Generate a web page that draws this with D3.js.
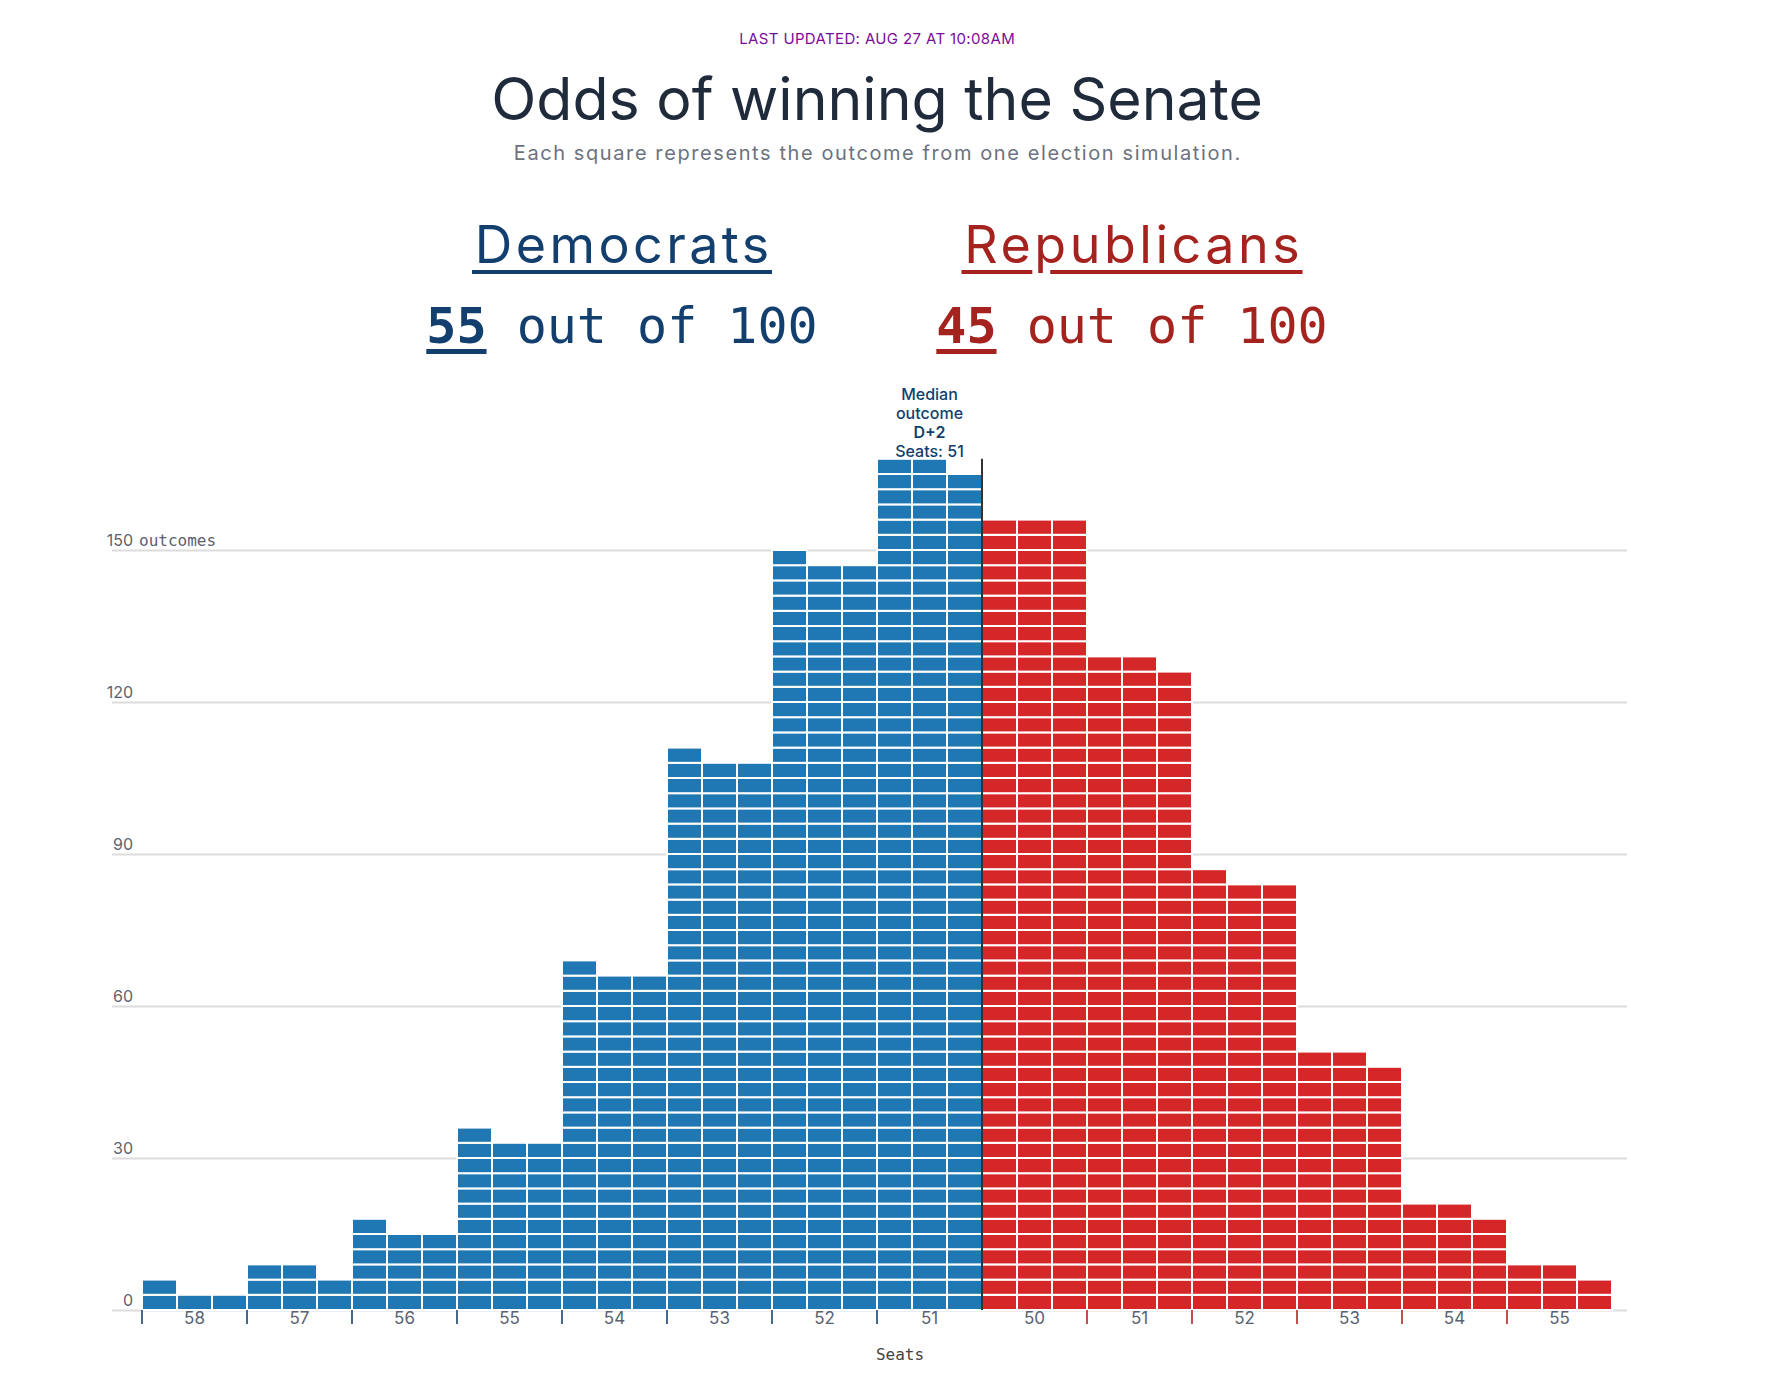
<!DOCTYPE html>
<meta charset="utf-8">
<style>
    body { margin: 0; background: #fff; }
    svg { display: block; }
    .sans { font-family: Inter, "Noto Sans", sans-serif; }
    .mono { font-family: "DejaVu Sans Mono", monospace; }
    .grid line { stroke: #dcdcdc; stroke-width: 2px; }
    .grid path { display: none; }
    .squares rect { stroke: #fff; stroke-width: 2px; }
    .xlabels path, .xlabels line { display: none; }
</style>
<svg width="1784" height="1384"></svg>
<script src="https://d3js.org/d3.v7.min.js"></script>
<script>
    // simulations per seat outcome (each square = one simulation)
    const demSeats = [58, 57, 56, 55, 54, 53, 52, 51];
    const demSims = [4, 8, 16, 34, 67, 109, 148, 167];
    const repSeats = [50, 51, 52, 53, 54, 55];
    const repSims = [156, 128, 85, 50, 20, 8];
    const yTicks = [0, 30, 60, 90, 120, 150];
    const demOdds = 55, repOdds = 45;
    const medianSeats = 51, medianLabel = "D+2";

    const blue = "#1f77b4", red = "#d62728";
    const demText = "#123f6e", repText = "#a5231e";

    let svg = d3.select("svg");

    // spread a text's letters so it fills a given width (keeps it centred)
    function fit(sel, target) {
        let n = sel.text().length;
        let w = sel.node().getComputedTextLength();
        let ls = (target - w) / n;
        sel.attr("letter-spacing", ls).attr("x", +sel.attr("x") + ls / 2);
        return ls;
    }

    // header
    const cx = 877;
    fit(svg.append("text").attr("class", "sans")
        .attr("x", cx).attr("y", 44).attr("text-anchor", "middle")
        .attr("font-size", 15).attr("fill", "#7a0c9a")
        .text("LAST UPDATED: AUG 27 AT 10:08AM"), 276);
    svg.append("text").attr("class", "sans")
        .attr("x", cx).attr("y", 120).attr("text-anchor", "middle")
        .attr("font-size", 59).attr("fill", "#1f2a3b")
        .text("Odds of winning the Senate");
    fit(svg.append("text").attr("class", "sans")
        .attr("x", cx).attr("y", 160).attr("text-anchor", "middle")
        .attr("font-size", 20).attr("fill", "#6b7280")
        .text("Each square represents the outcome from one election simulation."), 728);

    const parties = [
        {name: "Democrats", odds: demOdds, color: demText, x: 622, width: 298},
        {name: "Republicans", odds: repOdds, color: repText, x: 1132, width: 339}
    ];
    parties.forEach(function(p) {
        let name = svg.append("text").attr("class", "sans")
            .attr("x", p.x).attr("y", 263).attr("text-anchor", "middle")
            .attr("font-size", 52).attr("fill", p.color)
            .text(p.name);
        let ls = fit(name, p.width);
        let x0 = p.x - p.width / 2, x1 = p.x + p.width / 2;
        // underline, skipping descenders
        let gaps = [];
        p.name.split("").forEach(function(ch, i) {
            if ("gjpqy".indexOf(ch) >= 0) {
                let e = name.node().getExtentOfChar(i);
                gaps.push([e.x - 2, e.x + (e.width - ls) * 0.5]);
            }
        });
        let segs = [], start = x0 - 1;
        gaps.forEach(function(g) { segs.push([start, g[0]]); start = g[1]; });
        segs.push([start, x1 + 1]);
        svg.append("g").selectAll("rect").data(segs).enter().append("rect")
            .attr("x", d => d[0]).attr("y", 270)
            .attr("width", d => d[1] - d[0]).attr("height", 4).attr("fill", p.color);

        let odds = svg.append("text").attr("class", "mono")
            .attr("x", p.x).attr("y", 343).attr("text-anchor", "middle")
            .attr("font-size", 50).attr("fill", p.color);
        odds.append("tspan").attr("font-weight", "bold").text(p.odds);
        odds.append("tspan").text(" out of 100");
        let box = odds.node().getBBox();
        let numW = odds.node().getSubStringLength(0, String(p.odds).length);
        svg.append("rect").attr("x", box.x).attr("y", 349)
            .attr("width", numW).attr("height", 5).attr("fill", p.color);
    });

    // bins
    const bins = demSeats.map((s, i) => ({party: "D", seats: s, sims: demSims[i], key: "D" + s}))
        .concat(repSeats.map((s, i) => ({party: "R", seats: s, sims: repSims[i], key: "R" + s})));

    let x = d3.scaleBand().domain(bins.map(d => d.key)).range([142, 1612]);
    let y = d3.scaleLinear().domain([0, 150]).range([1310, 550]);
    const bw = x.bandwidth(), cw = bw / 3;
    const gridLeft = 112, gridRight = 1627;

    // gridlines
    svg.append("g").attr("class", "grid")
        .attr("transform", "translate(" + gridRight + ",0)")
        .call(d3.axisLeft(y).tickValues(yTicks).tickSize(gridRight - gridLeft).tickFormat(""));

    let ylab = svg.append("g").attr("font-size", 16).attr("fill", "#5a6270");
    yTicks.forEach(function(v) {
        ylab.append("text").attr("class", "sans")
            .attr("x", 133).attr("y", y(v) - 4).attr("text-anchor", "end").text(v);
    });
    ylab.append("text").attr("class", "mono")
        .attr("x", 139).attr("y", y(150) - 4).text("outcomes");

    // squares: each bin is filled three wide, row by row
    let squares = [];
    bins.forEach(function(b) {
        for (let c = 0; c < 3; c++) {
            let n = Math.floor(b.sims / 3) + (c < b.sims % 3 ? 1 : 0);
            for (let r = 0; r < n; r++) squares.push({bin: b, col: c, row: r});
        }
    });
    svg.append("g").attr("class", "squares")
        .selectAll("rect")
        .data(squares)
        .enter()
        .append("rect")
        .attr("x", d => x(d.bin.key) + d.col * cw)
        .attr("y", d => y(3 * d.row + 3))
        .attr("width", cw)
        .attr("height", d => y(3 * d.row) - y(3 * d.row + 3))
        .attr("fill", d => d.bin.party === "D" ? blue : red);

    // x axis: boundary ticks and centred seat labels
    svg.append("g").selectAll("line")
        .data(bins.filter(b => b.key !== "R50"))
        .enter().append("line")
        .attr("x1", d => x(d.key)).attr("x2", d => x(d.key))
        .attr("y1", y(0)).attr("y2", y(0) + 14)
        .attr("stroke", d => d.party === "D" ? "#46688f" : "#c0504d")
        .attr("stroke-width", 2);

    let xlab = svg.append("g").attr("class", "xlabels sans")
        .attr("transform", "translate(0," + y(0) + ")")
        .call(d3.axisBottom(x).tickSize(0).tickPadding(0).tickFormat(k => k.slice(1)));
    xlab.selectAll("text").attr("font-family", null).attr("font-size", 17)
        .attr("fill", "#5a6270").attr("dy", 14);

    svg.append("text").attr("class", "mono")
        .attr("x", 900).attr("y", 1360).attr("text-anchor", "middle")
        .attr("font-size", 16).attr("fill", "#444")
        .text("Seats");

    // median marker
    const medBin = bins.find(b => b.key === "D" + medianSeats);
    const medTop = y(3 * Math.ceil(medBin.sims / 3));
    const medX = x("R50");
    svg.append("line")
        .attr("x1", medX).attr("x2", medX)
        .attr("y1", medTop).attr("y2", y(0))
        .attr("stroke", "#333").attr("stroke-width", 2);

    const medLines = ["Median", "outcome", medianLabel, "Seats: " + medianSeats];
    svg.append("g").attr("class", "sans").attr("font-size", 16).attr("fill", demText)
        .selectAll("text")
        .data(medLines)
        .enter().append("text")
        .attr("x", x(medBin.key) + bw / 2)
        .attr("y", (d, i) => medTop - 2 - (medLines.length - 1 - i) * 19)
        .attr("text-anchor", "middle")
        .attr("font-weight", (d, i) => i === 2 ? 600 : 500)
        .text(d => d);
</script>
